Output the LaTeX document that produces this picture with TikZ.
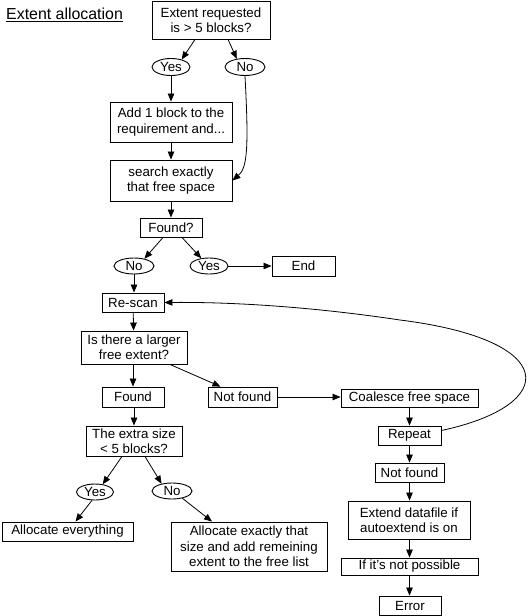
\documentclass[tikz,border=0pt]{standalone}
\usepackage{fontspec}
\setmainfont{Liberation Sans}
\usetikzlibrary{arrows.meta,shapes.geometric,calc}
\tikzset{
  box/.style={draw,line width=0.9pt,inner sep=0pt,align=center,font=\fontsize{13.3}{15.3}\selectfont},
  oval/.style={draw,ellipse,line width=0.9pt,inner sep=0pt,font=\fontsize{13.3}{15.3}\selectfont},
  arr/.style={line width=0.8pt,-{Triangle[length=8pt,width=6.5pt]}}
}
\begin{document}
\begin{tikzpicture}[x=1pt,y=-1pt]
\useasboundingbox[fill=white] (0,0) rectangle (530,616);
\node[font=\fontsize{15.9}{18}\selectfont,inner sep=0pt,anchor=west] (title) at (6,15) {\underline{Extent allocation}};
% boxes
\node[box,minimum width=118,minimum height=38] (ext) at (211,20) {Extent requested\\is > 5 blocks?};
\node[oval,minimum width=38,minimum height=17] (yes1) at (171,67) {Yes};
\node[oval,minimum width=40,minimum height=17] (no1) at (245,67) {No};
\node[box,minimum width=122,minimum height=40] (add) at (171,122) {Add 1 block to the\\requirement and...};
\node[box,minimum width=122,minimum height=41] (search) at (171,180.5) {search exactly\\that free space};
\node[box,minimum width=62,minimum height=19] (fq) at (171,227.5) {Found?};
\node[oval,minimum width=40,minimum height=16] (no2) at (134,266) {No};
\node[oval,minimum width=38,minimum height=16] (yes2) at (209,266) {Yes};
\node[box,minimum width=63,minimum height=20] (end) at (303.5,266) {End};
\node[box,minimum width=62,minimum height=19] (rescan) at (133,302.5) {Re-scan};
\node[box,minimum width=106,minimum height=33] (larger) at (134,347.5) {Is there a larger\\free extent?};
\node[box,minimum width=62,minimum height=20] (found) at (133,397) {Found};
\node[box,minimum width=69,minimum height=20] (nf1) at (242.5,397) {Not found};
\node[box,minimum width=137,minimum height=18] (co) at (409.5,398.5) {Coalesce free space};
\node[box,minimum width=63,minimum height=19] (rep) at (409.5,435.5) {Repeat};
\node[box,minimum width=69,minimum height=19] (nf2) at (409.5,472.5) {Not found};
\node[box,minimum width=122,minimum height=38] (extend) at (409,520) {Extend datafile if\\autoextend is on};
\node[box,minimum width=137,minimum height=17] (ifnot) at (409.5,566.5) {If it's not possible};
\node[box,minimum width=62,minimum height=19] (err) at (410,605.5) {Error};
\node[box,minimum width=96,minimum height=30] (extra) at (134,441) {The extra size\\< 5 blocks?};
\node[oval,minimum width=37,minimum height=16] (yes3) at (95,492) {Yes};
\node[oval,minimum width=40,minimum height=16] (no3) at (172,491) {No};
\node[box,minimum width=131,minimum height=19] (all) at (67.5,531.5) {Allocate everything};
\node[box,minimum width=156,minimum height=49] (exact) at (249,546.5) {Allocate exactly that\\size and add remeining\\extent to the free list};
% connectors
\draw[arr] ($(ext.south)+(-16,0)$) -- (yes1.35);
\draw[arr] ($(ext.south)+(17,0)$) -- (no1.135);
\draw[arr] (yes1) -- (add);
\draw[arr] (add) -- (search);
\draw[arr] (no1.south) .. controls (249,150) and (247,168) .. (search.east);
\draw[arr] (search) -- (fq);
\draw[arr] ($(fq.south)+(-8,0)$) -- (no2.35);
\draw[arr] ($(fq.south)+(11,0)$) -- (yes2.135);
\draw[arr] (yes2) -- (end);
\draw[arr] (no2) -- (no2 |- rescan.north);
\draw[arr] (rescan) -- (larger);
\draw[arr] (larger.south -| found) -- (found);
\draw[arr] ($(larger.south)+(36,0)$) -- ($(nf1.north)+(-22,0)$);
\draw[arr] (nf1.east) -- (nf1.east -| co.west);
\draw[arr] (co) -- (rep);
\draw[arr] (rep) -- (nf2);
\draw[arr] (nf2) -- (nf2 |- extend.north);
\draw[arr] (extend.south -| ifnot) -- (ifnot);
\draw[arr] (ifnot) -- (ifnot |- err.north);
\draw[arr] ($(rep.east)+(0,-5)$) .. controls (560,405) and (560,340) .. (400,320) .. controls (300,305) and (220,302) .. (rescan.east);
\draw[arr] (found.south -| extra) -- (extra);
\draw[arr] ($(extra.south)+(-12,0)$) -- (yes3.45);
\draw[arr] ($(extra.south)+(11,0)$) -- (no3.145);
\draw[arr] (yes3.250) -- ($(all.north)+(8,0)$);
\draw[arr] (no3.-35) -- ($(exact.north)+(-37,0)$);
\end{tikzpicture}
\end{document}
